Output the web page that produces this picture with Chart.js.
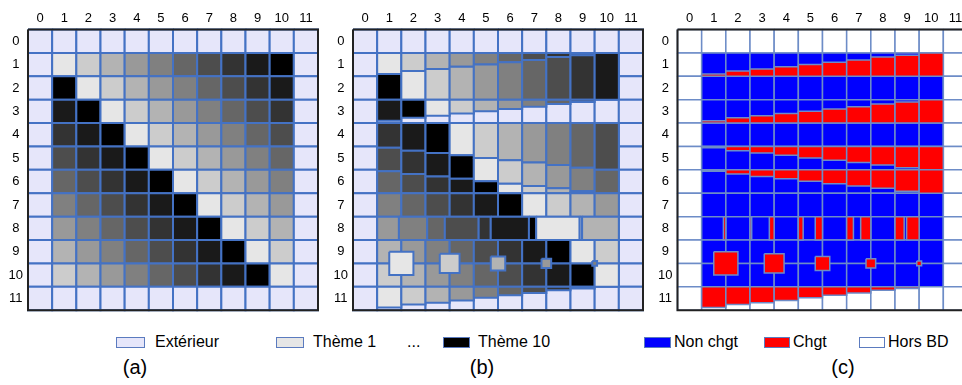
<!DOCTYPE html>
<html>
<head>
<meta charset="utf-8">
<script src="https://cdn.jsdelivr.net/npm/chart.js@4.4.0/dist/chart.umd.min.js"></script>
<style>
    body { margin: 0; width: 962px; height: 385px; overflow: hidden; background: #fff; font-family: 'Liberation Sans', Arial, sans-serif; }
    canvas { position: absolute; top: 0; }
    .txt { position: absolute; top: 334px; font-size: 16px; line-height: 16px; white-space: nowrap; color: #000; }
    .box { position: absolute; top: 337px; height: 11px; box-sizing: border-box; border: 1px solid #5b7bbf; }
    .cap { position: absolute; top: 357px; width: 60px; font-size: 20px; line-height: 20px; text-align: center; color: #000; }
</style>
</head>
<body>
<canvas id="chartA" width="322" height="323" style="left:0px"></canvas>
<canvas id="chartB" width="322" height="323" style="left:325px"></canvas>
<canvas id="chartC" width="323" height="323" style="left:649px"></canvas>

<!-- legend (a)/(b) -->
<div class="box" style="left:116px; width:29px; background:#e6e6fa;"></div>
<div class="txt" style="left:155px;">Extérieur</div>
<div class="box" style="left:276px; width:28px; background:#e6e6e6;"></div>
<div class="txt" style="left:313px;">Thème 1</div>
<div class="txt" style="left:407px;">...</div>
<div class="box" style="left:443px; width:27px; background:#000;"></div>
<div class="txt" style="left:478px;">Thème 10</div>

<!-- legend (c) -->
<div class="box" style="left:644px; width:27px; background:#0000ff;"></div>
<div class="txt" style="left:674px;">Non chgt</div>
<div class="box" style="left:764px; width:26px; background:#ff0000;"></div>
<div class="txt" style="left:793px;">Chgt</div>
<div class="box" style="left:859px; width:26px; background:#fff;"></div>
<div class="txt" style="left:888px;">Hors BD</div>

<div class="cap" style="left:105px;">(a)</div>
<div class="cap" style="left:452px;">(b)</div>
<div class="cap" style="left:813px;">(c)</div>

<script>
// Tick labels along both axes
const gridLabels = [0, 1, 2, 3, 4, 5, 6, 7, 8, 9, 10, 11];

// Thème 1 .. Thème 10
const themeColors = ['#e6e6e6', '#cccccc', '#b3b3b3', '#999999', '#808080', '#666666', '#4d4d4d', '#333333', '#1a1a1a', '#000000'];
const exteriorColor = '#e6e6fa';
const outsideColor = '#ffffff';
const unchangedColor = '#0000ff';
const changedColor = '#ff0000';

// (a) theme of each inner cell, rows 1..10, columns 1..10
const themesA = [
    [1, 2, 3, 4, 5, 6, 7, 8, 9, 10],
    [10, 1, 2, 3, 4, 5, 6, 7, 8, 9],
    [9, 10, 1, 2, 3, 4, 5, 6, 7, 8],
    [8, 9, 10, 1, 2, 3, 4, 5, 6, 7],
    [7, 8, 9, 10, 1, 2, 3, 4, 5, 6],
    [6, 7, 8, 9, 10, 1, 2, 3, 4, 5],
    [5, 6, 7, 8, 9, 10, 1, 2, 3, 4],
    [4, 5, 6, 7, 8, 9, 10, 1, 2, 3],
    [3, 4, 5, 6, 7, 8, 9, 10, 1, 2],
    [2, 3, 4, 5, 6, 7, 8, 9, 10, 1]
];

// (b) deformed cells
const topBandHeight = [0.9, 0.77, 0.69, 0.59, 0.5, 0.4, 0.3, 0.18, 0.1, 0];        // rows 1 and 3, per column
const midBandHeight = [1.06, 1.18, 1.28, 1.38, 1.49, 1.59, 1.69, 1.79, 1.91, 2.0]; // row 4, per column
const row11Height = [0.88, 0.76, 0.68, 0.58, 0.47, 0.36, 0.26, 0.15, 0.07, 0];     // new row 11, per column
const row8Edges = [1, 1.9, 3.07, 3.8, 5.2, 5.7, 7.28, 7.58, 9.38, 9.48, 11];
const row8Themes = [4, 5, 6, 7, 8, 9, 10, 1, 2, 3];
const squareCenterX = [2, 4, 6, 8, 10];
const squareCenterY = 10;
const squareSize = [1.0, 0.82, 0.6, 0.4, 0.2];
const squareThemes = [1, 2, 3, 4, 5];

const gridBlue = '#4472c4';
const gridBlueC = '#6d8cc7';
const frameColor = '#222222';

function themeColor(t) { return themeColors[t - 1]; }

function cell(x0, x1, y0, y1, fill, line, width) {
    return { x0, x1, y0, y1, fill, line, width };
}

function frame() {
    return cell(0, 12, 0, 12, null, frameColor, 2);
}

// outer grid of 12 x 12 cells
function baseGrid(colorOf, line, width) {
    const cells = [];
    gridLabels.forEach(r => {
        gridLabels.forEach(c => {
            cells.push(cell(c, c + 1, r, r + 1, colorOf(r, c), line, width));
        });
    });
    return cells;
}

function isInner(r, c) { return r >= 1 && r <= 10 && c >= 1 && c <= 10; }

// ---------- (a)
const cellsA = baseGrid((r, c) => isInner(r, c) ? themeColor(themesA[r - 1][c - 1]) : exteriorColor, gridBlue, 2);
cellsA.push(frame());

// ---------- (b)
const cellsB = baseGrid(() => exteriorColor, gridBlue, 2);
const redC = [];
for (let c = 1; c <= 10; c++) {
    const t = r => themeColor(themesA[r - 1][c - 1]);
    const h = topBandHeight[c - 1];
    const g = midBandHeight[c - 1];
    const k = row11Height[c - 1];
    const parts = [
        [1, 1 + h, t(1)], [1 + h, 3, t(2)], [3, 3 + h, t(3)],
        [4, 4 + g, t(4)], [4 + g, 5 + g, t(5)], [5 + g, 7, t(6)],
        [7, 8, t(7)], [9, 10, t(9)], [10, 11, t(10)],
        [11, 11 + k, t(1)]
    ];
    parts.forEach(p => {
        if (p[1] - p[0] > 0.001) cellsB.push(cell(c, c + 1, p[0], p[1], p[2], gridBlue, 2));
    });
    // changed areas for (c)
    [[1 + h, 2], [3 + h, 4], [5, 4 + g], [6, 5 + g], [11, 11 + k]].forEach(p => {
        if (p[1] - p[0] > 0.001) redC.push(cell(c, c + 1, p[0], p[1], changedColor, gridBlueC, 1.5));
    });
}
row8Themes.forEach((th, i) => {
    const x0 = row8Edges[i], x1 = row8Edges[i + 1];
    cellsB.push(cell(x0, x1, 8, 9, themeColor(th), gridBlue, 2));
    for (let c = 1; c <= 10; c++) {
        const a = Math.max(x0, c), b = Math.min(x1, c + 1);
        if (b - a > 0.001 && themesA[7][c - 1] !== th) {
            redC.push(cell(a, b, 8, 9, changedColor, gridBlueC, 1.5));
        }
    }
});
squareThemes.forEach((th, i) => {
    const half = squareSize[i] / 2;
    const x = squareCenterX[i];
    cellsB.push(cell(x - half, x + half, squareCenterY - half, squareCenterY + half, themeColor(th), gridBlue, 2));
    redC.push(cell(x - half, x + half, squareCenterY - half, squareCenterY + half, changedColor, gridBlueC, 1.5));
});
cellsB.push(frame());

// ---------- (c)
const cellsC = baseGrid((r, c) => isInner(r, c) ? unchangedColor : outsideColor, gridBlueC, 1.5)
    .concat(redC);
cellsC.push(frame());

function makeChart(id, cells, yAxisWidth, rightPad) {
    // first cell at the bottom: chart.js draws the first dataset last
    const datasets = cells.map(r => ({
        data: [{ x: r.x0, y: r.y0 }, { x: r.x1, y: r.y0 }, { x: r.x1, y: r.y1 }, { x: r.x0, y: r.y1 }, { x: r.x0, y: r.y0 }],
        showLine: true,
        fill: r.fill ? 'shape' : false,
        backgroundColor: r.fill || 'rgba(0,0,0,0)',
        borderColor: r.line,
        borderWidth: r.width,
        borderJoinStyle: 'miter',
        pointRadius: 0,
        pointHoverRadius: 0,
        clip: false
    })).reverse();

    const tickFont = { family: "'Liberation Sans', Arial, sans-serif", size: 13 };
    return new Chart(document.getElementById(id), {
        type: 'scatter',
        data: { datasets },
        options: {
            responsive: false,
            animation: false,
            events: [],
            layout: { padding: { top: 0, left: 0, right: rightPad, bottom: 4.5 } },
            plugins: { legend: { display: false }, tooltip: { enabled: false } },
            scales: {
                x: {
                    type: 'linear', position: 'top', min: 0, max: 12,
                    afterBuildTicks: s => { s.ticks = gridLabels.map(v => ({ value: v + 0.5 })); },
                    afterFit: s => { s.height = 29.5; },
                    grid: { display: false, drawTicks: false },
                    border: { display: false },
                    ticks: { autoSkip: false, maxRotation: 0, padding: 3, color: '#000', font: tickFont, callback: v => String(v - 0.5) }
                },
                y: {
                    type: 'linear', reverse: true, min: 0, max: 12,
                    afterBuildTicks: s => { s.ticks = gridLabels.map(v => ({ value: v + 0.5 })); },
                    afterFit: s => { s.width = yAxisWidth; },
                    grid: { display: false, drawTicks: false },
                    border: { display: false },
                    ticks: { autoSkip: false, crossAlign: 'center', padding: 5, color: '#000', font: tickFont, callback: v => String(v - 0.5) }
                }
            }
        }
    });
}

makeChart('chartA', cellsA, 28, 4);
makeChart('chartB', cellsB, 28, 4);
makeChart('chartC', cellsC, 28.5, 4.5);
</script>
</body>
</html>
